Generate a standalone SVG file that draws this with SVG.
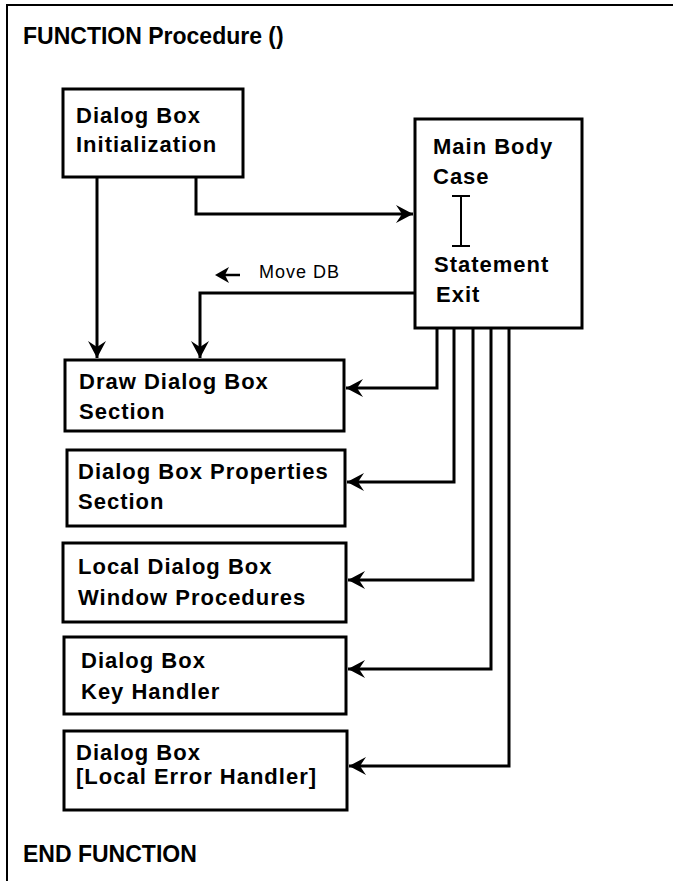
<svg xmlns="http://www.w3.org/2000/svg" width="673" height="881" viewBox="0 0 673 881">
<defs>
<style>
.t{font-family:"Liberation Sans",Arial,sans-serif;font-weight:bold;font-size:22px;fill:#000;letter-spacing:1px}
.h{font-family:"Liberation Sans",Arial,sans-serif;font-weight:bold;font-size:23px;fill:#000}
.s{font-family:"Liberation Sans",Arial,sans-serif;font-size:18px;fill:#000;letter-spacing:1px}
.box{fill:#fff;stroke:#000;stroke-width:3}
.c{fill:none;stroke:#000;stroke-width:3}
.f{fill:none;stroke:#000;stroke-width:2}
</style>
<marker id="ah" markerUnits="userSpaceOnUse" viewBox="-18 -10 20 20" refX="0" refY="0" markerWidth="20" markerHeight="20" orient="auto">
<path d="M0,0 L-17,-9 L-11,0 L-17,9 Z" fill="#000"/>
</marker>
</defs>
<rect width="673" height="881" fill="#fff"/>
<g id="frame">
<path class="f" d="M673,5 H7 V881"/>
<text class="h" x="23" y="44">FUNCTION Procedure ()</text>
<text class="h" x="23" y="862">END FUNCTION</text>
</g>
<g id="connectors">
<path class="c" d="M97,177 V358" marker-end="url(#ah)"/>
<path class="c" d="M196,177 V214 H413" marker-end="url(#ah)"/>
<path class="c" d="M415,293 H200 V358" marker-end="url(#ah)"/>
<path class="c" d="M437,328 V388 H346" marker-end="url(#ah)"/>
<path class="c" d="M454,328 V482 H347" marker-end="url(#ah)"/>
<path class="c" d="M473,328 V580 H348" marker-end="url(#ah)"/>
<path class="c" d="M491,328 V669 H348" marker-end="url(#ah)"/>
<path class="c" d="M509,328 V766 H349" marker-end="url(#ah)"/>
<g id="movedb">
<path d="M215,275 L229,267 L225,275 L229,283 Z" fill="#000"/>
<path d="M224,275 H240" stroke="#000" stroke-width="2.5"/>
<text class="s" x="259" y="278">Move DB</text>
</g>
</g>
<g id="init">
<rect class="box" x="63" y="89" width="180" height="88"/>
<text class="t" x="76" y="123">Dialog Box</text>
<text class="t" x="76" y="152">Initialization</text>
</g>
<g id="main">
<rect class="box" x="415" y="119" width="167" height="209"/>
<text class="t" x="433" y="154">Main Body</text>
<text class="t" x="433" y="184">Case</text>
<path d="M461,196 V246 M452,196 H470 M452,246 H470" fill="none" stroke="#000" stroke-width="2"/>
<text class="t" x="434" y="272">Statement</text>
<text class="t" x="436" y="302">Exit</text>
</g>
<g id="draw">
<rect class="box" x="65" y="360" width="279" height="71"/>
<text class="t" x="79" y="389">Draw Dialog Box</text>
<text class="t" x="79" y="419">Section</text>
</g>
<g id="props">
<rect class="box" x="67" y="450" width="278" height="76"/>
<text class="t" x="78" y="479">Dialog Box Properties</text>
<text class="t" x="78" y="509">Section</text>
</g>
<g id="local">
<rect class="box" x="63" y="543" width="283" height="79"/>
<text class="t" x="78" y="574">Local Dialog Box</text>
<text class="t" x="78" y="605">Window Procedures</text>
</g>
<g id="key">
<rect class="box" x="64" y="637" width="282" height="77"/>
<text class="t" x="81" y="668">Dialog Box</text>
<text class="t" x="81" y="699">Key Handler</text>
</g>
<g id="error">
<rect class="box" x="64" y="731" width="283" height="79"/>
<text class="t" x="76" y="760">Dialog Box</text>
<text class="t" x="76" y="784">[Local Error Handler]</text>
</g>
</svg>
